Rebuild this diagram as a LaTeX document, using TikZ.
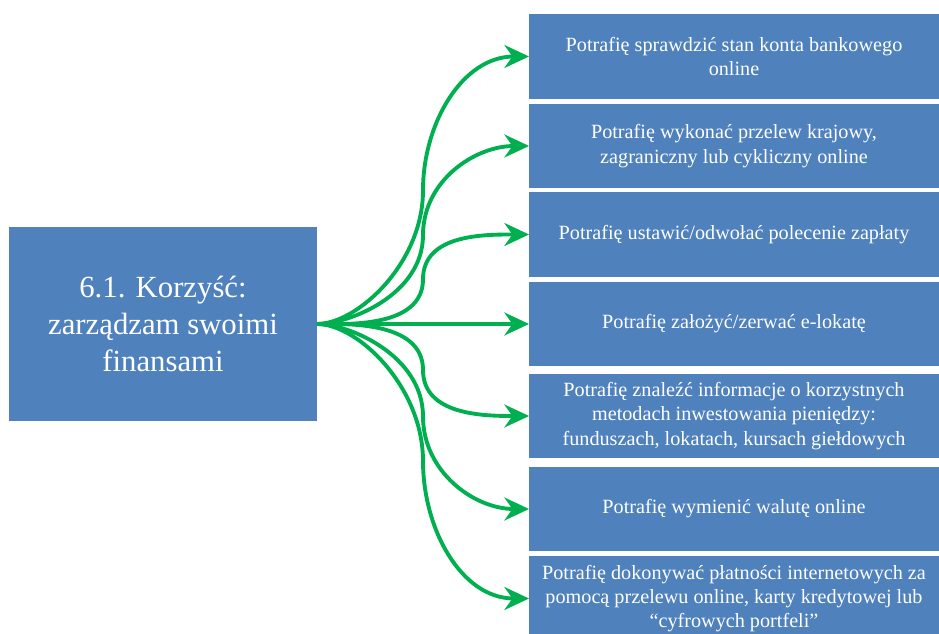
\documentclass[tikz,border=0pt]{standalone}
\usepackage{fontspec}
\setmainfont{Liberation Serif}
\usetikzlibrary{arrows.meta,calc}

\definecolor{boxblue}{RGB}{79,129,189}
\definecolor{arrowgreen}{RGB}{0,176,80}

\begin{document}
\begin{tikzpicture}[x=0.02cm,y=-0.02cm,
		topic/.style={fill=boxblue,text=white,align=center,inner sep=0pt,outer sep=0pt,
			minimum width=6.16cm,minimum height=3.88cm,font=\fontsize{17.5}{21}\selectfont},
		skill/.style={fill=boxblue,text=white,align=center,inner sep=0pt,outer sep=0pt,
			minimum width=8.2cm,minimum height=1.7cm,font=\fontsize{11.5}{13.8}\selectfont},
		link/.style={draw=arrowgreen,line width=2.2pt,-{Stealth[length=14pt,width=13pt]}}]
	\useasboundingbox (0,0) rectangle (939,634);
	\clip (0,0) rectangle (939,634);
	\fill [white] (0,0) rectangle (939,634);
	\node [topic] (benefit) at (163,324) {6.1. Korzyść:\\zarządzam swoimi\\finansami};
	\node [skill] (s1) at (734,56.5) {Potrafię sprawdzić stan konta bankowego\\online};
	\node [skill] (s2) at (734,146) {Potrafię wykonać przelew krajowy,\\zagraniczny lub cykliczny online};
	\node [skill] (s3) at (734,234.5) {Potrafię ustawić/odwołać polecenie zapłaty};
	\node [skill] (s4) at (734,324) {Potrafię założyć/zerwać e-lokatę};
	\node [skill] (s5) at (734,416) {Potrafię znaleźć informacje o korzystnych\\metodach inwestowania pieniędzy:\\funduszach, lokatach, kursach giełdowych};
	\node [skill] (s6) at (734,509) {Potrafię wymienić walutę online};
	\node [skill] (s7) at (734,598.5) {Potrafię dokonywać płatności internetowych za\\pomocą przelewu online, karty kredytowej lub\\“cyfrowych portfeli”};
	% fan of arrows
	\draw [link] (benefit.east) -- (s4.west);
	\foreach \i in {1,2,3}
		\draw [link] (benefit.east) to[out=0,in=-90,out looseness=0.6,in looseness=1.1] ($(benefit.east)!0.5!(s\i.west)$) to[out=90,in=180] (s\i.west);
	\foreach \i in {5,6,7}
		\draw [link] (benefit.east) to[out=0,in=90,out looseness=0.6,in looseness=1.1] ($(benefit.east)!0.5!(s\i.west)$) to[out=-90,in=180] (s\i.west);
\end{tikzpicture}
\end{document}
